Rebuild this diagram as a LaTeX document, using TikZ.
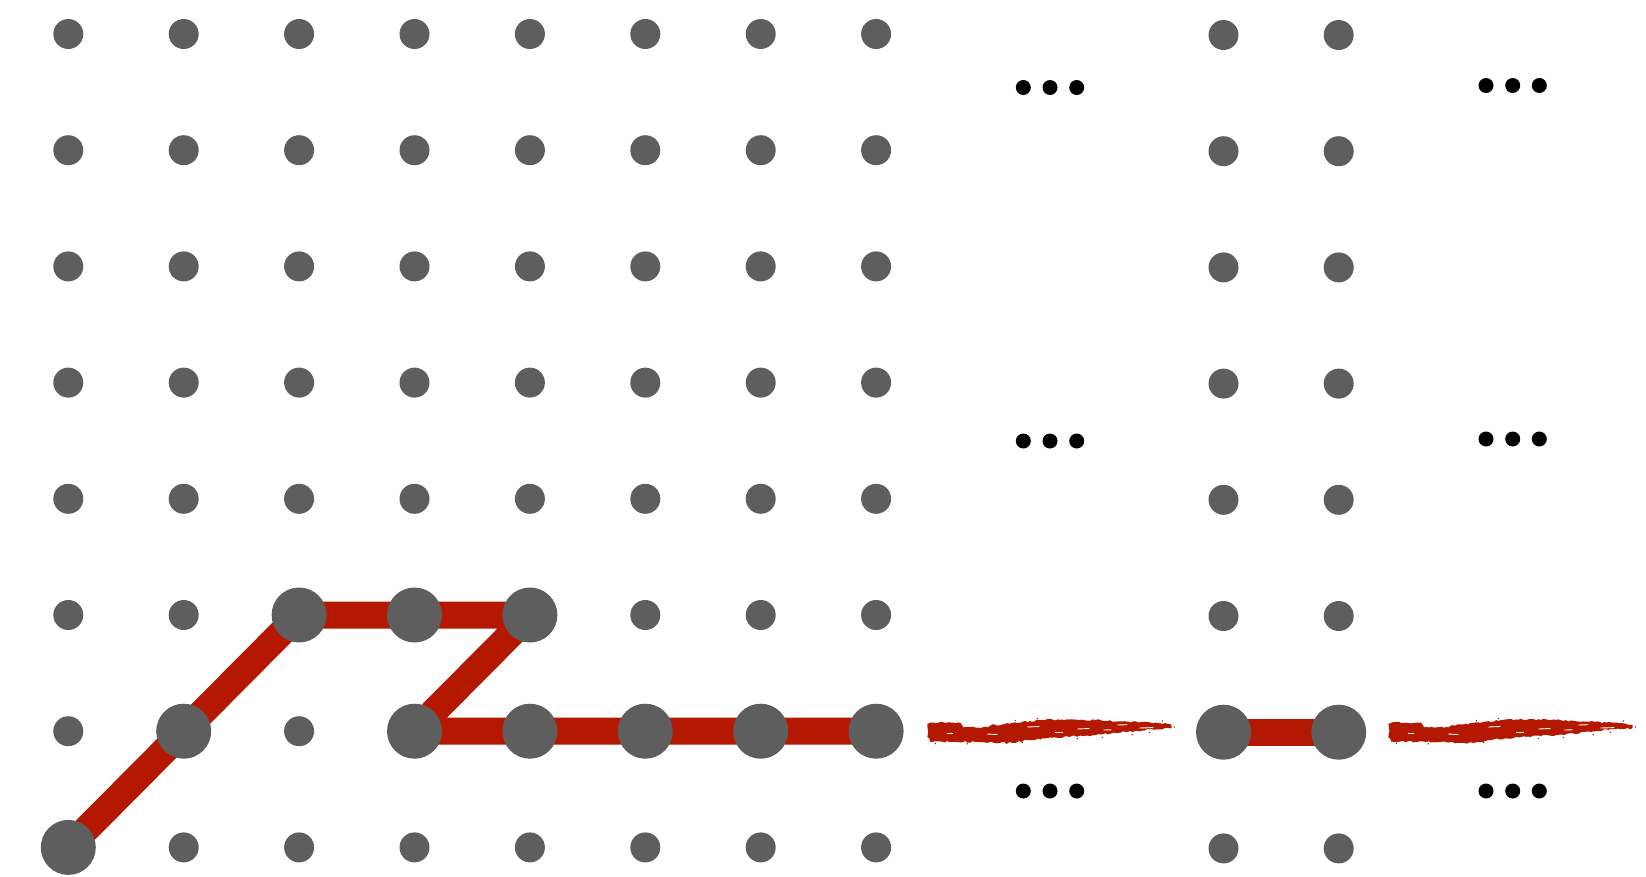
\documentclass[tikz,border=0pt]{standalone}
\usetikzlibrary{decorations.pathmorphing}
\definecolor{dotgray}{RGB}{94,94,94}
\definecolor{pathred}{RGB}{180,24,0}
\begin{document}
\begin{tikzpicture}[x=1pt,y=-1pt,
  small/.style={circle,fill=dotgray,inner sep=0pt,minimum size=30pt},
  big/.style={circle,fill=dotgray,inner sep=0pt,minimum size=55pt},
  ell/.style={circle,fill=black,inner sep=0pt,minimum size=15pt},
  link/.style={draw=pathred,line width=27pt,line join=round},
  brush/.style={fill=pathred,decorate,decoration={random steps,segment length=2.5pt,amplitude=0.9pt}},
  speck/.style={draw=white,line width=0.9pt},
  fleck/.style={fill=pathred}]
\useasboundingbox (0,0) rectangle (1646,876);
\pgfmathsetseed{7}
% grid positions
\foreach \i in {0,...,7}
  \foreach \j in {0,...,7}
    \coordinate (g-\i-\j) at ({68.3+115.4*\i},{34+116.2*\j});
\foreach \i/\x in {0/1223.5,1/1338.7}
  \foreach \j in {0,...,7}
    \coordinate (h-\i-\j) at (\x,{35+116.2*\j});
% small dots
\foreach \j in {0,...,4}
  \foreach \i in {0,...,7}
    \node[small] (s-\i-\j) at (g-\i-\j) {};
\foreach \i in {0,1,5,6,7} \node[small] (s-\i-5) at (g-\i-5) {};
\foreach \i in {0,2} \node[small] (s-\i-6) at (g-\i-6) {};
\foreach \i in {1,...,7} \node[small] (s-\i-7) at (g-\i-7) {};
\foreach \i in {0,1}
  \foreach \j in {0,1,2,3,4,5,7}
    \node[small] (t-\i-\j) at (h-\i-\j) {};
% red path
\draw[link] (g-0-7) -- (g-1-6) -- (g-2-5) -- (g-3-5) -- (g-4-5) -- (g-3-6) -- (g-4-6) -- (g-5-6) -- (g-6-6) -- (g-7-6);
\draw[link] (h-0-6) -- (h-1-6);
% big dots
\foreach \c in {0-7,1-6,2-5,3-5,4-5,3-6,4-6,5-6,6-6,7-6}
  \node[big] (b-\c) at (g-\c) {};
\foreach \i in {0,1} \node[big] (c-\i) at (h-\i-6) {};
% brush strokes
\coordinate (br1) at (927.3,731);
\coordinate (br2) at (1388.3,731);
\foreach \b in {br1,br2}{
  \begin{scope}[shift={(\b)}]
    \fill[brush] (0,-7) -- (3,-8.3) -- (33,-8.3) -- (36,-3.5) -- (60,-3.5) -- (64,-6) -- (75,-6.5) -- (95,-9) -- (113,-11) -- (140,-11.7) -- (168,-11) -- (201,-9.3) -- (230,-8) -- (244,-6.5)
      -- (244,-2.5) -- (225,-2) -- (201,0.7) -- (168,4) -- (140,5.5) -- (118,7.3) -- (100,9) -- (85,12) -- (72,12) -- (50,11) -- (30,10.7) -- (3,10.7) -- (0,6) -- (1,0) -- cycle;
    \draw[speck] (100,-4) -- (112,-4.5);
    \draw[speck] (150,-2) -- (162,-2.5);
    \draw[speck] (190,-6) -- (200,-6.3);
    \draw[speck] (60,3) -- (70,3.5);
    \draw[speck] (128,1) -- (136,1);
    \draw[speck] (212,-3) -- (226,-3.4);
    \draw[speck] (20,2) -- (26,2);
    \draw[speck] (176,-1) -- (184,-1.2);
    \foreach \p in {(8,12.5),(40,12.8),(95,11.5),(150,7.5),(175,6.5),(205,3.5),(222,1.5),(247,-4),(110,-12.5),(88,-10.5),(235,-10)}
      \fill[fleck] \p circle (0.8);
  \end{scope}
}
% ellipses
\foreach \k/\y in {a/87.5,b/441,c/791}{
  \node[ell] (e1\k) at (1023.3,\y) {};
  \node[ell] (e2\k) at (1050,\y) {};
  \node[ell] (e3\k) at (1076.7,\y) {};
}
\foreach \k/\y in {a/85.5,b/439,c/791}{
  \node[ell] (f1\k) at (1486,\y) {};
  \node[ell] (f2\k) at (1512.7,\y) {};
  \node[ell] (f3\k) at (1539.3,\y) {};
}
\end{tikzpicture}
\end{document}
